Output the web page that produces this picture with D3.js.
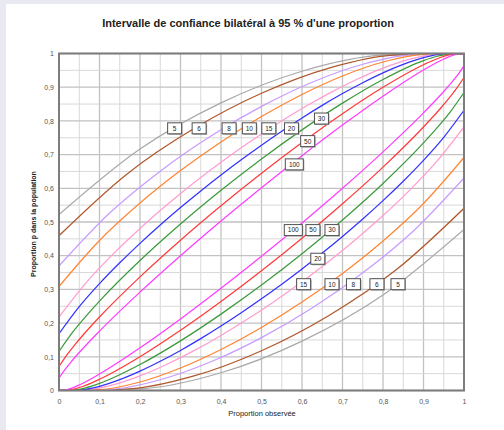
<!DOCTYPE html>
<html><head><meta charset="utf-8">
<script src="https://cdn.jsdelivr.net/npm/d3@7"></script>
<style>
html,body{margin:0;padding:0;background:#e9e9f2;}
svg{display:block;font-family:"Liberation Sans",Arial,sans-serif;}
</style></head>
<body>
<script>
// ---------- DATA ----------
const sampleSizes = [5, 6, 8, 10, 15, 20, 30, 50, 100];

const obs5 = [0, 0.2, 0.4, 0.6, 0.8, 1];
const up5  = [0.5218, 0.7164, 0.8534, 0.9473, 0.9949, 1];
const lo5  = [0, 0.0051, 0.0527, 0.1466, 0.2836, 0.4782];

const obs6 = [0, 0.1667, 0.3333, 0.5, 0.6667, 0.8333, 1];
const up6  = [0.4593, 0.6412, 0.7772, 0.8819, 0.9567, 0.9958, 1];
const lo6  = [0, 0.0042, 0.0433, 0.1181, 0.2228, 0.3588, 0.5407];

const obs8 = [0, 0.125, 0.25, 0.375, 0.5, 0.625, 0.75, 0.875, 1];
const up8  = [0.3694, 0.5265, 0.6509, 0.7551, 0.8430, 0.9148, 0.9681, 0.9968, 1];
const lo8  = [0, 0.0032, 0.0319, 0.0852, 0.1570, 0.2449, 0.3491, 0.4735, 0.6306];

const obs10 = [0, 0.1, 0.2, 0.3, 0.4, 0.5, 0.6, 0.7, 0.8, 0.9, 1];
const up10  = [0.3085, 0.4450, 0.5561, 0.6525, 0.7376, 0.8129, 0.8784, 0.9333, 0.9748, 0.9975, 1];
const lo10  = [0, 0.0025, 0.0252, 0.0667, 0.1216, 0.1871, 0.2624, 0.3475, 0.4439, 0.5550, 0.6915];

const obs15 = [0, 0.0667, 0.1333, 0.2, 0.2667, 0.3333, 0.4, 0.4667, 0.5333, 0.6, 0.6667, 0.7333, 0.8, 0.8667, 0.9333, 1];
const up15  = [0.2180, 0.3195, 0.4046, 0.4809, 0.5510, 0.6162, 0.6771, 0.7341, 0.7873, 0.8366, 0.8818, 0.9221, 0.9567, 0.9834, 0.9983, 1];
const lo15  = [0, 0.0017, 0.0166, 0.0433, 0.0779, 0.1182, 0.1634, 0.2127, 0.2659, 0.3229, 0.3838, 0.4490, 0.5191, 0.5954, 0.6805, 0.7820];

const obs20 = [0, 0.05, 0.1, 0.15, 0.2, 0.25, 0.3, 0.35, 0.4, 0.45, 0.5, 0.55, 0.6, 0.65, 0.7, 0.75, 0.8, 0.85, 0.9, 0.95, 1];
const up20  = [0.1684, 0.2487, 0.3170, 0.3789, 0.4366, 0.4910, 0.5428, 0.5922, 0.6395, 0.6847, 0.7280, 0.7694, 0.8088, 0.8461, 0.8811, 0.9134, 0.9427, 0.9679, 0.9877, 0.9987, 1];
const lo20  = [0, 0.0013, 0.0123, 0.0321, 0.0573, 0.0866, 0.1189, 0.1539, 0.1912, 0.2306, 0.2720, 0.3153, 0.3605, 0.4078, 0.4572, 0.5090, 0.5634, 0.6211, 0.6830, 0.7513, 0.8316];

const obs30 = [0, 0.0333, 0.0667, 0.1, 0.2, 0.3, 0.4, 0.5, 0.6, 0.7, 0.8, 0.9, 0.9333, 0.9667, 1];
const up30  = [0.1157, 0.1722, 0.2207, 0.2653, 0.3857, 0.4940, 0.5941, 0.6872, 0.7734, 0.8527, 0.9229, 0.9789, 0.9918, 0.9992, 1];
const lo30  = [0, 0.0008, 0.0082, 0.0211, 0.0771, 0.1473, 0.2266, 0.3128, 0.4059, 0.5060, 0.6143, 0.7347, 0.7793, 0.8278, 0.8843];

const obs50 = [0, 0.02, 0.04, 0.06, 0.1, 0.2, 0.3, 0.4, 0.5, 0.6, 0.7, 0.8, 0.9, 0.94, 0.96, 0.98, 1];
const up50  = [0.0711, 0.1063, 0.1371, 0.1655, 0.2181, 0.3372, 0.4461, 0.5482, 0.6448, 0.7360, 0.8215, 0.8998, 0.9667, 0.9874, 0.9951, 0.9995, 1];
const lo50  = [0, 0.0005, 0.0049, 0.0126, 0.0333, 0.1002, 0.1785, 0.2640, 0.3552, 0.4518, 0.5539, 0.6628, 0.7819, 0.8345, 0.8629, 0.8937, 0.9289];

const obs100 = [0, 0.01, 0.02, 0.03, 0.05, 0.1, 0.2, 0.3, 0.4, 0.5, 0.6, 0.7, 0.8, 0.9, 0.95, 0.97, 0.98, 0.99, 1];
const up100  = [0.0362, 0.0545, 0.0704, 0.0852, 0.1128, 0.1762, 0.2918, 0.3998, 0.5028, 0.6017, 0.6967, 0.7876, 0.8733, 0.9510, 0.9836, 0.9938, 0.9976, 0.9997, 1];
const lo100  = [0, 0.0003, 0.0024, 0.0062, 0.0164, 0.0490, 0.1267, 0.2124, 0.3033, 0.3983, 0.4972, 0.6002, 0.7082, 0.8238, 0.8872, 0.9148, 0.9296, 0.9455, 0.9638];

const tickValues = [0, 0.1, 0.2, 0.3, 0.4, 0.5, 0.6, 0.7, 0.8, 0.9, 1];
const tickLabels = ["0", "0,1", "0,2", "0,3", "0,4", "0,5", "0,6", "0,7", "0,8", "0,9", "1"];
const gridValues = [0, 0.05, 0.1, 0.15, 0.2, 0.25, 0.3, 0.35, 0.4, 0.45, 0.5, 0.55, 0.6, 0.65, 0.7, 0.75, 0.8, 0.85, 0.9, 0.95, 1];

const titleText = "Intervalle de confiance bilatéral à 95 % d'une proportion";
const xTitle = "Proportion observée";
const yTitle = "Proportion p dans la population";

// label annotations: [text, observed proportion, population proportion]
const upperLabels = [["5",0.2855,0.778],["6",0.346,0.778],["8",0.420,0.778],["10",0.470,0.778],["15",0.518,0.778],["20",0.574,0.778],["30",0.648,0.807],["50",0.614,0.740],["100",0.581,0.671]];
const lowerLabels = [["100",0.5785,0.476],["50",0.627,0.476],["30",0.674,0.476],["20",0.639,0.391],["15",0.604,0.3155],["10",0.674,0.3155],["8",0.727,0.3155],["6",0.785,0.3155],["5",0.837,0.3155]];

// ---------- STYLE ----------
const colorOf = {5:"#a9a9a9", 6:"#b0582c", 8:"#c79cff", 10:"#ff8533", 15:"#ff9dd0", 20:"#3333ff", 30:"#3c9a3c", 50:"#ff3b3b", 100:"#ff3dff"};
const W = 504, H = 430;
const plotL = 59, plotR = 464, plotT = 53.5, plotB = 390.5;

const series = [
  {n:5, obs:obs5, up:up5, lo:lo5},
  {n:6, obs:obs6, up:up6, lo:lo6},
  {n:8, obs:obs8, up:up8, lo:lo8},
  {n:10, obs:obs10, up:up10, lo:lo10},
  {n:15, obs:obs15, up:up15, lo:lo15},
  {n:20, obs:obs20, up:up20, lo:lo20},
  {n:30, obs:obs30, up:up30, lo:lo30},
  {n:50, obs:obs50, up:up50, lo:lo50},
  {n:100, obs:obs100, up:up100, lo:lo100}
];

const svg = d3.select("body").append("svg").attr("width", W).attr("height", H);
svg.append("rect").attr("x",0).attr("y",0).attr("width",W).attr("height",H).attr("fill","#e9e9f2");
svg.append("rect").attr("x",6).attr("y",4).attr("width",W-6).attr("height",H-4).attr("fill","#ffffff");

const x = d3.scaleLinear().domain([0,1]).range([plotL,plotR]);
const y = d3.scaleLinear().domain([0,1]).range([plotB,plotT]);

// grid
const grid = svg.append("g");
grid.selectAll("line.v").data(gridValues).join("line").attr("class","v")
  .attr("x1", d=>x(d)).attr("x2", d=>x(d)).attr("y1", y(0)).attr("y2", y(1))
  .attr("stroke", (d,i)=> i%2===0 ? "#c2c2c2" : "#d8d8d8")
  .attr("stroke-width", (d,i)=> i%2===0 ? 1.3 : 1);
grid.selectAll("line.h").data(gridValues).join("line").attr("class","h")
  .attr("y1", d=>y(d)).attr("y2", d=>y(d)).attr("x1", x(0)).attr("x2", x(1))
  .attr("stroke", (d,i)=> i%2===0 ? "#c2c2c2" : "#d8d8d8")
  .attr("stroke-width", (d,i)=> i%2===0 ? 1.3 : 1);

// clip
svg.append("clipPath").attr("id","plotclip").append("rect")
  .attr("x", x(0)).attr("y", y(1)).attr("width", x(1)-x(0)).attr("height", y(0)-y(1));

const line = d3.line().x(d=>x(d[0])).y(d=>y(d[1])).curve(d3.curveMonotoneX);
const curves = svg.append("g").attr("clip-path","url(#plotclip)");
series.forEach(s => {
  const upPts = s.obs.map((v,i)=>[v, s.up[i]]);
  const loPts = s.obs.map((v,i)=>[v, s.lo[i]]);
  [upPts, loPts].forEach(pts => {
    curves.append("path").attr("d", line(pts)).attr("fill","none")
      .attr("stroke", colorOf[s.n]).attr("stroke-width", 1.25);
  });
});

// frame
svg.append("rect").attr("x", x(0)).attr("y", y(1)).attr("width", x(1)-x(0)).attr("height", y(0)-y(1))
  .attr("fill","none").attr("stroke","#7d7d7d").attr("stroke-width",2);

// axes
const xAxis = d3.axisBottom(x).tickValues(tickValues).tickFormat((d,i)=>tickLabels[i]).tickSize(0).tickPadding(9);
const gx = svg.append("g").attr("transform",`translate(0,${plotB})`).call(xAxis);
gx.select(".domain").remove();
gx.selectAll("text").attr("font-size","7px").attr("fill","#555").attr("font-family","Liberation Sans, Arial, sans-serif");

const yAxis = d3.axisLeft(y).tickValues(tickValues).tickFormat((d,i)=>tickLabels[i]).tickSize(0).tickPadding(5);
const gy = svg.append("g").attr("transform",`translate(${plotL},0)`).call(yAxis);
gy.select(".domain").remove();
gy.selectAll("text").attr("font-size","7px").attr("fill","#555").attr("font-family","Liberation Sans, Arial, sans-serif");

// titles
svg.append("text").attr("x",248).attr("y",27).attr("text-anchor","middle")
  .attr("font-size","11px").attr("font-weight","bold").attr("fill","#222").text(titleText);
svg.append("text").attr("x",262).attr("y",416).attr("text-anchor","middle")
  .attr("font-size","7.5px").attr("fill","#222").text(xTitle);
svg.append("text").attr("transform","translate(36,224) rotate(-90)").attr("text-anchor","middle")
  .attr("font-size","7px").attr("font-weight","bold").attr("fill","#222").text(yTitle);

// labels
const lab = svg.append("g");
upperLabels.concat(lowerLabels).forEach(([t,px,py]) => {
  const w = t.length === 3 ? 18 : 14, h = 11;
  const cx = x(px), cy = y(py);
  lab.append("rect").attr("x", cx-w/2+1).attr("y", cy-h/2+1).attr("width", w).attr("height", h).attr("fill","#a8a8a8");
  lab.append("rect").attr("x", cx-w/2).attr("y", cy-h/2).attr("width", w).attr("height", h)
    .attr("fill","#fff").attr("stroke","#505050").attr("stroke-width",1);
  lab.append("text").attr("x", cx).attr("y", cy+2.4).attr("text-anchor","middle")
    .attr("font-size","6.5px").attr("fill","#222").text(t);
});
</script>
</body></html>
